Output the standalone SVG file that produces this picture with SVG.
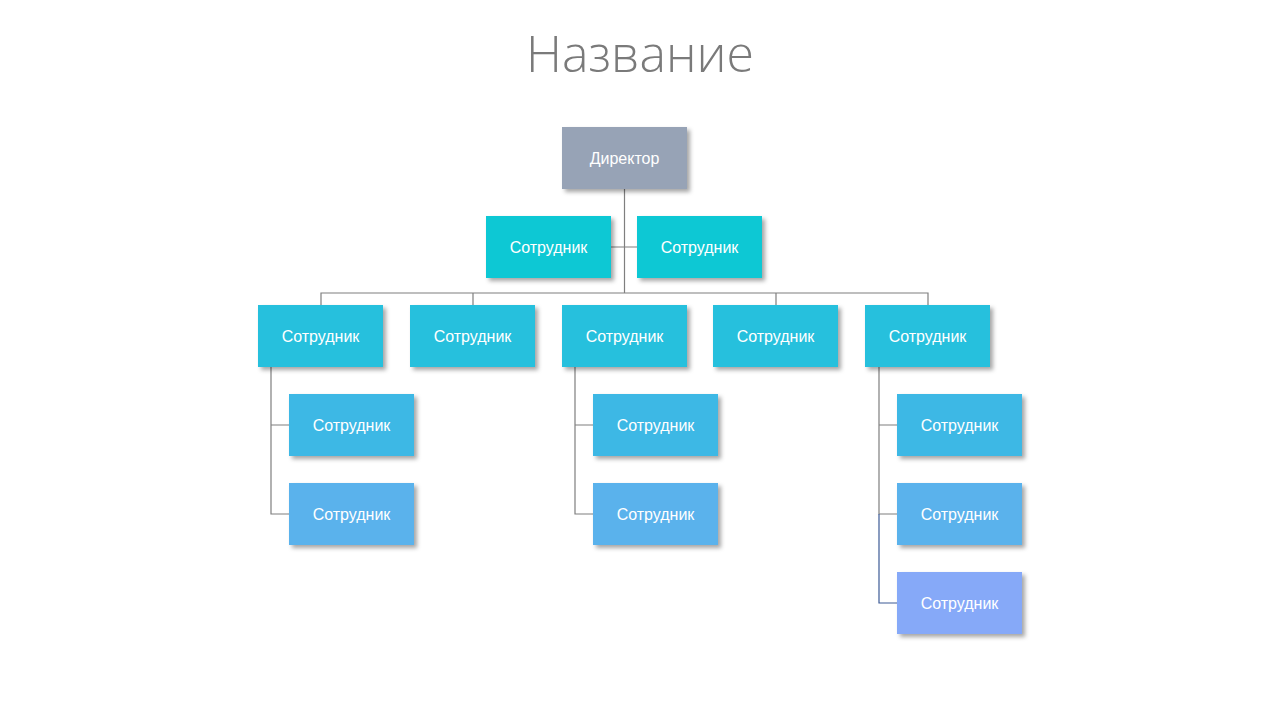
<svg xmlns="http://www.w3.org/2000/svg" width="1280" height="720" viewBox="0 0 1280 720">
<defs>
<filter id="sh" x="-10%" y="-10%" width="130%" height="140%">
<feDropShadow dx="3" dy="3" stdDeviation="2" flood-color="#000" flood-opacity="0.35"/>
</filter>
<style>
.b{filter:url(#sh)}
.t{font-family:"Liberation Sans","DejaVu Sans",sans-serif;font-size:16px;fill:#fff;text-anchor:middle;dominant-baseline:central}
.c{stroke:#7f7f7f;stroke-width:1.2;fill:none}
</style>
</defs>
<rect width="1280" height="720" fill="#fff"/>
<text x="640" y="72" font-family="'Open Sans','Noto Sans',sans-serif" font-weight="300" font-size="50" fill="#7a7a7a" text-anchor="middle">Название</text>
<g id="connectors">
<path class="c" d="M624.5 189V293M611 247H637M321 305V293H928V305M473 293V305M776 293V305"/>
<path class="c" d="M271 367V514H289M271 425H289M575 367V514H593M575 425H593M879 367V514H897M879 425H897"/>
<path d="M879 514V603H897" stroke="#3d5a96" stroke-width="1.2" fill="none"/>
</g>
<g id="n0"><rect class="b" x="562" y="127" width="125" height="62" fill="#97a3b6"/><text class="t" x="624.5" y="158">Директор</text></g>
<g id="n1"><rect class="b" x="486" y="216" width="125" height="62" fill="#0fc8d4"/><text class="t" x="548.5" y="247">Сотрудник</text></g>
<g id="n2"><rect class="b" x="637" y="216" width="125" height="62" fill="#0fc8d4"/><text class="t" x="699.5" y="247">Сотрудник</text></g>
<g id="n3"><rect class="b" x="258" y="305" width="125" height="62" fill="#26c0dd"/><text class="t" x="320.5" y="336">Сотрудник</text></g>
<g id="n4"><rect class="b" x="410" y="305" width="125" height="62" fill="#26c0dd"/><text class="t" x="472.5" y="336">Сотрудник</text></g>
<g id="n5"><rect class="b" x="562" y="305" width="125" height="62" fill="#26c0dd"/><text class="t" x="624.5" y="336">Сотрудник</text></g>
<g id="n6"><rect class="b" x="713" y="305" width="125" height="62" fill="#26c0dd"/><text class="t" x="775.5" y="336">Сотрудник</text></g>
<g id="n7"><rect class="b" x="865" y="305" width="125" height="62" fill="#26c0dd"/><text class="t" x="927.5" y="336">Сотрудник</text></g>
<g id="n8"><rect class="b" x="289" y="394" width="125" height="62" fill="#3eb8e5"/><text class="t" x="351.5" y="425">Сотрудник</text></g>
<g id="n9"><rect class="b" x="289" y="483" width="125" height="62" fill="#5ab2ec"/><text class="t" x="351.5" y="514">Сотрудник</text></g>
<g id="n10"><rect class="b" x="593" y="394" width="125" height="62" fill="#3eb8e5"/><text class="t" x="655.5" y="425">Сотрудник</text></g>
<g id="n11"><rect class="b" x="593" y="483" width="125" height="62" fill="#5ab2ec"/><text class="t" x="655.5" y="514">Сотрудник</text></g>
<g id="n12"><rect class="b" x="897" y="394" width="125" height="62" fill="#3eb8e5"/><text class="t" x="959.5" y="425">Сотрудник</text></g>
<g id="n13"><rect class="b" x="897" y="483" width="125" height="62" fill="#5ab2ec"/><text class="t" x="959.5" y="514">Сотрудник</text></g>
<g id="n14"><rect class="b" x="897" y="572" width="125" height="62" fill="#86a9f8"/><text class="t" x="959.5" y="603">Сотрудник</text></g>
</svg>
